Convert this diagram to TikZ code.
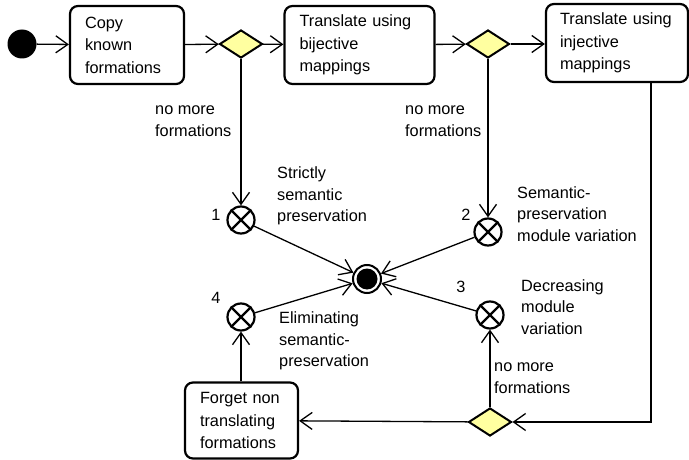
\documentclass[tikz,border=0pt]{standalone}
\usepackage{fontspec}
\setmainfont{Liberation Sans}
\usetikzlibrary{arrows.meta,shapes.geometric}
\begin{document}
\begin{tikzpicture}[x=1pt,y=-1pt,
  every node/.style={font=\fontsize{16.3}{21.5}\selectfont, inner sep=0pt},
  act/.style={draw, rounded corners=8pt, line width=2.2pt, align=left,
    inner xsep=15pt, minimum height=78pt, font=\fontsize{16.3}{22.5}\selectfont},
  dec/.style={diamond, draw, line width=2pt, fill=decfill, minimum width=43pt, minimum height=28pt},
  xc/.style={circle, draw, line width=2.2pt, minimum size=27pt},
  conn/.style={line width=1.3pt, -{Straight Barb[length=12pt,width=17pt,line width=1.3pt]}},
  lab/.style={align=left, anchor=west},
  num/.style={anchor=center}
]
\definecolor{decfill}{RGB}{255,255,160}
\useasboundingbox (0,0) rectangle (689,460);

\node[circle, fill, minimum size=29pt] (st) at (22,44) {};
\node[act, text width=84pt] (b1) at (127,45) {Copy\\known\\formations};
\node[dec] (d1) at (241,44) {};
\node[act, text width=120pt] (b2) at (359.5,45) {Translate using\\bijective\\mappings};
\node[dec] (d2) at (488,44) {};
\node[act, text width=114pt, inner xsep=14pt] (b3) at (617,43) {Translate using\\injective\\mappings};
\node[dec] (d3) at (490,422) {};
\node[act, text width=83pt, minimum height=76pt] (b4) at (241.5,420.5) {Forget non\\translating\\formations};

\node[xc] (c1) at (241,220) {};
\node[xc] (c2) at (488,232) {};
\node[xc] (c3) at (490,315) {};
\node[xc] (c4) at (241,317) {};
\foreach \c in {c1,c2,c3,c4}{
  \draw[line width=2.2pt] (\c.45) -- (\c.225) (\c.135) -- (\c.315);
}
\node[circle, draw, line width=2pt, minimum size=28pt] (fin) at (367,279) {};
\fill (fin.center) circle (10.5pt);

\coordinate (corner) at (651,422);

\draw[conn] (st) -- (b1);
\draw[conn] (b1) -- (d1);
\draw[conn] (d1) -- (b2);
\draw[conn] (b2) -- (d2);
\draw[conn] (d2) -- (b3.west |- d2);
\draw[conn] (d1) -- (c1);
\draw[conn] (d2) -- (c2);
\draw[conn] (b3.south -| corner) -- (corner) -- (d3.east);
\draw[conn] (d3) -- (b4);
\draw[conn] (d3) -- (c3);
\draw[conn] (b4.north -| c4) -- (c4);
\draw[conn] (c1) -- (fin);
\draw[conn] (c2) -- (fin);
\draw[conn] (c3) -- (fin);
\draw[conn] (c4) -- (fin);

\node[lab] (l1) at (155,121) {no more\\formations};
\node[lab] (l2) at (405,121) {no more\\formations};
\node[lab] (l3) at (494,378) {no more\\formations};

\node[num] (n1) at (216,215) {1};
\node[num] (n2) at (466,215) {2};
\node[num] (n3) at (461,287) {3};
\node[num] (n4) at (216,298) {4};

\node[lab] (t1) at (277,196) {Strictly\\semantic\\preservation};
\node[lab] (t2) at (517,214) {Semantic-\\preservation\\module variation};
\node[lab] (t3) at (521,307) {Decreasing\\module\\variation};
\node[lab] (t4) at (279,341) {Eliminating\\semantic-\\preservation};
\end{tikzpicture}
\end{document}
